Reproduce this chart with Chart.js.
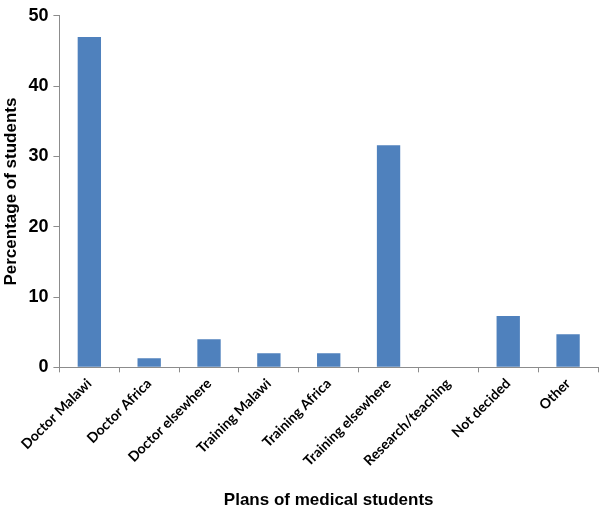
<!DOCTYPE html>
<html>
<head>
<meta charset="utf-8">
<script src="https://cdn.jsdelivr.net/npm/chart.js@4.4.1/dist/chart.umd.min.js"></script>
<style>
  html, body { margin: 0; padding: 0; background: #fff; }
  #wrap { width: 600px; height: 511px; }
</style>
</head>
<body>
<div id="wrap"><canvas id="plans-chart"></canvas></div>
<script>
const planLabels = ['Doctor Malawi', 'Doctor Africa', 'Doctor elsewhere', 'Training Malawi',
  'Training Africa', 'Training elsewhere', 'Research/teaching', 'Not decided', 'Other'];
const planPercentages = [47, 1.3, 4, 2, 2, 31.6, 0, 7.3, 4.7];
const yTicks = [0, 10, 20, 30, 40, 50];

const axisGrey = '#8c8c8c';
const barBlue = '#4f81bd';
const helv = "'Liberation Sans', Arial, sans-serif";

new Chart(document.getElementById('plans-chart'), {
  type: 'bar',
  data: {
    labels: planLabels,
    datasets: [{
      data: planPercentages,
      backgroundColor: barBlue,
      borderWidth: 0,
      categoryPercentage: 1,
      barPercentage: 0.39,
    }]
  },
  options: {
    responsive: true,
    maintainAspectRatio: false,
    animation: false,
    layout: { padding: { top: -6, right: 2, left: 1, bottom: 0 } },
    plugins: {
      legend: { display: false },
      tooltip: { enabled: false },
    },
    scales: {
      x: {
        grid: {
          display: true,
          drawOnChartArea: false,
          color: axisGrey,
          tickLength: 5,
          offset: true,
        },
        border: { color: axisGrey, width: 1 },
        ticks: {
          minRotation: 45,
          maxRotation: 45,
          autoSkip: false,
          color: '#000',
          padding: 3,
          font: { family: "Lato, 'Open Sans', sans-serif", size: 14, weight: 'bold' },
        },
        title: {
          display: true,
          text: 'Plans of medical students',
          color: '#000',
          padding: { top: 18, bottom: 0 },
          font: { family: helv, size: 17, weight: 'bold' },
        },
      },
      y: {
        min: 0,
        max: 50,
        afterBuildTicks: (axis) => { axis.ticks = yTicks.map(v => ({ value: v })); },
        grid: {
          display: true,
          drawOnChartArea: false,
          color: axisGrey,
          tickLength: 6,
        },
        border: { color: axisGrey, width: 1 },
        ticks: {
          color: '#000',
          padding: 5,
          font: { family: helv, size: 18, weight: 'bold' },
        },
        title: {
          display: true,
          text: 'Percentage of students',
          color: '#000',
          padding: { top: 0, bottom: 2 },
          font: { family: helv, size: 17, weight: 'bold' },
        },
      },
    },
  },
});
</script>
</body>
</html>
